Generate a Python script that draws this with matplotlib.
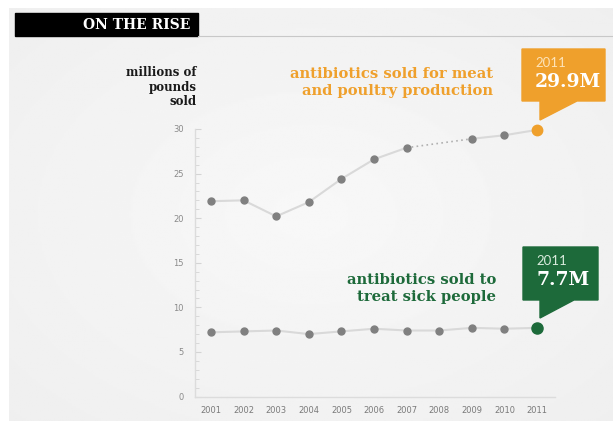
import numpy as np
import matplotlib.pyplot as plt
from matplotlib.patches import Rectangle, Polygon

years = [2001, 2002, 2003, 2004, 2005, 2006, 2007, 2008, 2009, 2010, 2011]
# no figure reported for 2008 on the livestock side
meat = [21.9, 22.0, 20.2, 21.8, 24.4, 26.6, 27.9, np.nan, 28.9, 29.3, 29.9]
human = [7.2, 7.3, 7.4, 7.0, 7.3, 7.6, 7.4, 7.4, 7.7, 7.6, 7.7]
yticks = [0, 5, 10, 15, 20, 25, 30]

ORANGE = '#efa02c'
GREEN = '#1d6a3a'
LINE = '#d9d9d9'
DOT = '#808080'
SERIF = 'DejaVu Serif'

W, H = 613, 421
fig = plt.figure(figsize=(W / 100, H / 100), dpi=100)
fig.patch.set_facecolor('white')

# soft grey panel, a little lighter toward the middle
bg = fig.add_axes([9 / W, 0, 1 - 9 / W, 1 - 8 / H])
gx, gy = np.meshgrid(np.linspace(-1, 1, 300), np.linspace(-1, 1, 200))
shade = 0.972 - 0.035 * np.clip(np.sqrt(gx ** 2 + gy ** 2), 0, 1.4) / 1.4
bg.imshow(shade, cmap='gray', vmin=0, vmax=1, aspect='auto', extent=[0, 1, 0, 1])
bg.set_axis_off()

# title tab and rule
fig.patches.append(Rectangle((15 / W, 1 - 36 / H), 183 / W, 23 / H,
                             transform=fig.transFigure, color='black'))
fig.lines.append(plt.Line2D([198 / W, 1], [1 - 35.5 / H, 1 - 35.5 / H],
                            transform=fig.transFigure, color='#c8c8c8', lw=0.8))
fig.text(190 / W, 1 - 25 / H, 'ON THE RISE', color='white', family=SERIF,
         weight='bold', fontsize=10, ha='right', va='center')

x0, x1 = 195, 555
ytop, ybot = 129, 396.5
ax = fig.add_axes([x0 / W, 1 - ybot / H, (x1 - x0) / W, (ybot - ytop) / H])
ax.set_facecolor('none')
ax.set_xlim(2000.51, 2011.55)
ax.set_ylim(0, 30)

for s in ['top', 'right']:
    ax.spines[s].set_visible(False)
for s in ['left', 'bottom']:
    ax.spines[s].set_color('#dcdcdc')
    ax.spines[s].set_linewidth(1)

ax.set_yticks(yticks)
ax.set_yticks(range(0, 31), minor=True)
ax.set_xticks(years)
ax.tick_params(axis='y', which='both', direction='in', color='#d4d4d4',
               labelsize=6, labelcolor='#8a8a8a', pad=8)
ax.tick_params(axis='y', which='major', length=4)
ax.tick_params(axis='y', which='minor', length=3)
ax.tick_params(axis='x', length=0, labelsize=6, labelcolor='#7a7a7a', pad=7)

yrs = np.array(years)
meat = np.array(meat)
human = np.array(human)

# livestock series: solid where data exist, dotted across the missing year
ok = ~np.isnan(meat)
ax.plot(yrs[:7], meat[:7], color=LINE, lw=1.5, zorder=2, clip_on=False)
ax.plot(yrs[8:], meat[8:], color=LINE, lw=1.5, zorder=2, clip_on=False)
ax.plot([yrs[6], yrs[8]], [meat[6], meat[8]], color='#b0b0b0', lw=1.2,
        ls=(0, (1, 2)), zorder=2)
ax.plot(yrs[ok][:-1], meat[ok][:-1], 'o', color=DOT, ms=5, zorder=3)
ax.plot(yrs[-1], meat[-1], 'o', color=ORANGE, ms=7.5, zorder=4, clip_on=False)

ax.plot(yrs, human, color=LINE, lw=1.5, zorder=2)
ax.plot(yrs[:-1], human[:-1], 'o', color=DOT, ms=5, zorder=3)
ax.plot(yrs[-1], human[-1], 'o', color=GREEN, ms=8, zorder=4)

# axis caption
fig.text(197 / W, 1 - 87 / H, 'millions of\npounds\nsold', family=SERIF,
         weight='bold', fontsize=8.5, ha='right', va='center',
         linespacing=1.15, color='#1a1a1a')

# series labels
fig.text(493 / W, 1 - 82.5 / H, 'antibiotics sold for meat\nand poultry production',
         family=SERIF, fontsize=10.6, color=ORANGE, ha='right', va='center',
         weight='bold', linespacing=1.3)
fig.text(496 / W, 1 - 288.5 / H, 'antibiotics sold to\ntreat sick people',
         family=SERIF, fontsize=10.6, color=GREEN, ha='right', va='center',
         weight='bold', linespacing=1.25)


def callout(left, top, right, bottom, tip_x, tip_y, diag_x, color, sub_color, year, value):
    pts = [(left, top), (right, top), (right, bottom), (diag_x, bottom),
           (tip_x, tip_y), (tip_x, bottom), (left, bottom)]
    fig.patches.append(Polygon([(px / W, 1 - py / H) for px, py in pts],
                               closed=True, transform=fig.transFigure,
                               color=color, zorder=5))
    fig.text((left + 13) / W, 1 - (top + 14) / H, str(year), color=sub_color,
             fontsize=9.5, family='Lato', ha='left', va='center', zorder=6)
    fig.text((left + 13) / W, 1 - (top + 33) / H, value, color='white',
             fontsize=13.5, family=SERIF, weight='bold', ha='left',
             va='center', zorder=6)


callout(522, 49, 605, 101, 540, 120, 577, ORANGE, '#fde3b8', years[-1],
        f'{meat[-1]:.1f}M')
callout(523, 247, 598, 300, 540, 318, 574, GREEN, '#d8eadc', years[-1],
        f'{human[-1]:.1f}M')

fig.savefig('out.png', dpi=100)
